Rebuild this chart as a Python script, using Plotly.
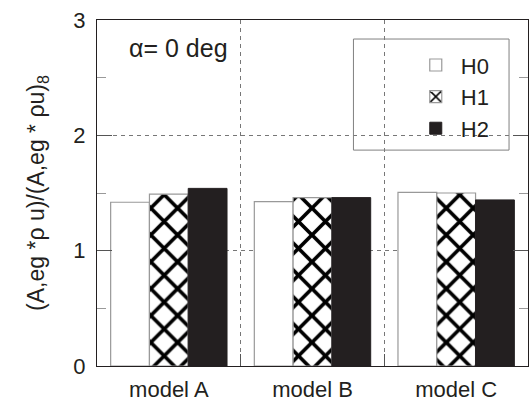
import plotly.graph_objects as go

categories = ["model A", "model B", "model C"]
series_names = ["H0", "H1", "H2"]
h0_values = [1.42, 1.425, 1.505]
h1_values = [1.49, 1.46, 1.50]
h2_values = [1.54, 1.46, 1.44]
y_ticks = [0, 1, 2, 3]

FONT = "Liberation Sans, Arial, Helvetica, sans-serif"
xpos = list(range(len(categories)))

fig = go.Figure()
fig.add_trace(go.Bar(
    x=xpos, y=h0_values, name=series_names[0],
    marker=dict(color="white", line=dict(color="#999999", width=1.2)),
))
fig.add_trace(go.Bar(
    x=xpos, y=h1_values, name=series_names[1],
    marker=dict(color="white", line=dict(color="#999999", width=1.2),
                pattern=dict(shape="x", fgcolor="black", bgcolor="white",
                             fgopacity=1, size=19, solidity=0.35,
                             fillmode="replace")),
))
fig.add_trace(go.Bar(
    x=xpos, y=h2_values, name=series_names[2],
    marker=dict(color="#231f20", line=dict(color="#231f20", width=1)),
))

fig.update_layout(
    width=529, height=403,
    margin=dict(l=97, r=1, t=20, b=37),
    paper_bgcolor="white", plot_bgcolor="white",
    barmode="group", bargap=0.19, bargroupgap=0,
    font=dict(family=FONT, size=21, color="#231f20"),
    showlegend=True,
    legend=dict(x=0.728, y=0.93, xanchor="left", yanchor="top",
                bgcolor="rgba(0,0,0,0)", borderwidth=0,
                font=dict(size=22, family=FONT), tracegroupgap=0,
                itemwidth=40),
)

fig.update_xaxes(
    range=[-0.5, 2.5], tickvals=xpos, ticktext=categories,
    ticks="", showgrid=False, zeroline=False,
    showline=True, linecolor="#231f20", linewidth=1.2, mirror=True,
    tickfont=dict(size=22), ticklabelstandoff=3,
    minor=dict(tickvals=[0.5, 1.5], ticks="inside", ticklen=12,
               tickcolor="#555555", showgrid=True, gridcolor="#777777",
               griddash="4px,4px", gridwidth=1),
)
fig.update_yaxes(
    range=[0, 3], tickvals=y_ticks, ticks="inside", ticklen=15,
    tickcolor="#555555", showgrid=True, gridcolor="#777777",
    griddash="4px,4px", gridwidth=1, zeroline=False,
    showline=True, linecolor="#231f20", linewidth=1.2, mirror="allticks",
    tickfont=dict(size=22), ticklabelstandoff=6,
    title=dict(text="(A,eg *ρ u)/(A,eg * ρu)<sub>8</sub>", font=dict(size=23), standoff=22),
    minor=dict(tickvals=[0.5, 1.5, 2.5], ticks="inside", ticklen=9,
               tickcolor="#999999", showgrid=False),
)

# legend frame
fig.add_shape(type="rect", xref="paper", yref="paper",
              x0=0.595, x1=0.956, y0=0.624, y1=0.945,
              line=dict(color="#808080", width=1), fillcolor="rgba(0,0,0,0)")

fig.add_annotation(text="α= 0 deg", xref="paper", yref="paper",
                   x=0.069, y=0.919, xanchor="left", yanchor="middle",
                   showarrow=False, font=dict(size=25, family=FONT, color="#231f20"))

fig.write_html("out.html")
